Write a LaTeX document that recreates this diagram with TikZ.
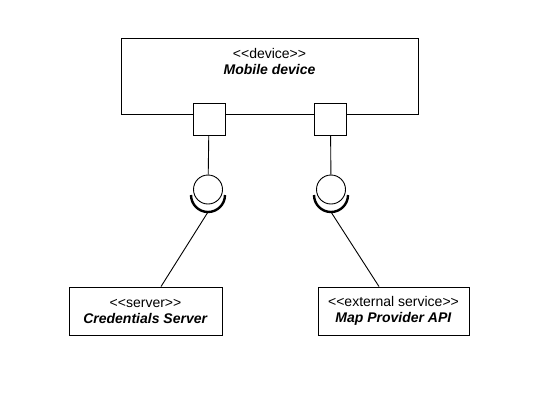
\documentclass[tikz,border=0pt]{standalone}
\usepackage{fontspec}
\setmainfont{Liberation Sans}
\usetikzlibrary{positioning}

\begin{document}
\begin{tikzpicture}[
    x=1pt, y=-1pt,
    line width=0.9pt,
    font=\fontsize{14}{16}\selectfont,
    box/.style={
		rectangle,
		draw=black,
		fill=white,
		align=center,
		inner sep=0pt
	},
	port/.style={
		rectangle,
		draw=black,
		fill=white,
		minimum size=32pt,
		inner sep=0pt
	},
	ball/.style={
		circle,
		draw=black,
		fill=white,
		minimum size=29pt,
		inner sep=0pt
	},
	socket/.style={
		line width=2.4pt
	}
  ]
  \useasboundingbox (0,0) rectangle (537,408);

    % the device with its two ports
  \node [box, minimum width=297pt, minimum height=76pt] (device) at (269.5,76) {};
  \node [below=7pt of device.north, align=center] (devicetext)
 {%
  <{}<device>{}>\\[0pt]
  \textbf{\textit{Mobile device}}
 };
  \node [port] (port1) at (209,119) {};
  \node [port] (port2) at (330.5,119) {};

    % provided / required interfaces
  \node [ball] (ball1) at (208,189.5) {};
  \node [ball] (ball2) at (331,189.5) {};
  \draw [socket] (191,195) arc [start angle=180, end angle=0, radius=17];
  \draw [socket] (314,195) arc [start angle=180, end angle=0, radius=17];
  \coordinate (sock1) at (208,212);
  \coordinate (sock2) at (331,212);

    % the servers
  \node [box, minimum width=153pt, minimum height=48pt] (server) at (145.5,311)
 {%
  <{}<server>{}>\\[0pt]
  \textbf{\textit{Credentials Server}}
 };
  \node [box, minimum width=151pt, minimum height=48pt] (mapapi) at (393.5,311)
 {%
  <{}<external service>{}>\\[0pt]
  \textbf{\textit{Map Provider API}}
 };

 \draw (port1) -- (ball1);
 \draw (port2) -- (ball2);
 \draw (sock1) -- (server.north -| 161,0);
 \draw (sock2) -- (mapapi.north -| 379,0);

\end{tikzpicture}
\end{document}
